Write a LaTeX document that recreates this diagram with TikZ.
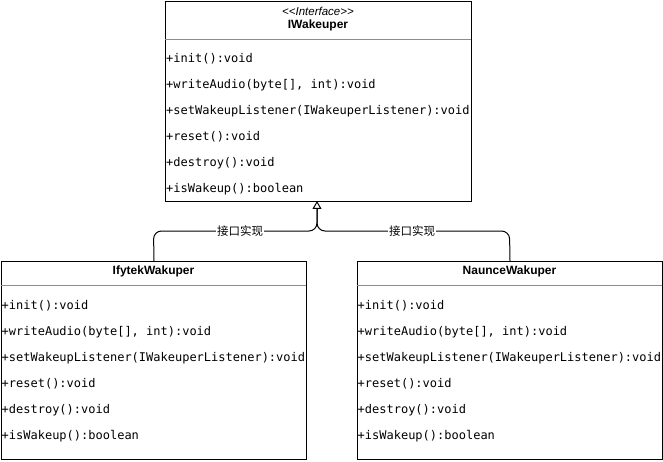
\documentclass[tikz,border=0pt]{standalone}
\usepackage{fontspec}
\setmainfont{Liberation Sans}
\setmonofont{DejaVu Sans Mono}
\newfontfamily\cjk{Noto Sans CJK SC}
\usetikzlibrary{arrows.meta}
\begin{document}
\begin{tikzpicture}[x=1pt,y=-1pt,
  box/.style={draw=black, line width=1pt, anchor=north west, inner sep=0pt},
  div/.style={draw=black!45, line width=0.8pt},
  member/.style={anchor=base west, inner sep=0pt, font=\ttfamily\fontsize{12}{14}\selectfont},
  hdr/.style={inner sep=0pt, font=\bfseries\fontsize{12}{14}\selectfont},
  stereo/.style={inner sep=0pt, font=\itshape\fontsize{11.5}{14}\selectfont},
  conn/.style={draw=black, line width=1pt, rounded corners=8pt},
  lbl/.style={fill=white, inner sep=1pt, font=\cjk\fontsize{11.5}{14}\selectfont}
]
\useasboundingbox (0,0) rectangle (663,462);

% interface box
\node[box, minimum width=306pt, minimum height=200pt] (iw) at (165,1) {};
\draw[div] (165,39) -- (471,39);
\node[stereo] (iwst) at (318,11) {<\kern0pt<Interface>\kern0pt>};
\node[hdr] (iwname) at (318,25) {IWakeuper};
\foreach \t [count=\i] in {{+init():void},{+writeAudio(byte[], int):void},{+setWakeupListener(IWakeuperListener):void},{+reset():void},{+destroy():void},{+isWakeup():boolean}}
  \node[member] (iwm\i) at (166,36.5+26*\i) {\t};

% Ifytek box
\node[box, minimum width=305pt, minimum height=198pt] (ify) at (1,261) {};
\draw[div] (1,285) -- (306,285);
\node[hdr] (ifyname) at (153.5,271) {IfytekWakuper};
\foreach \t [count=\i] in {{+init():void},{+writeAudio(byte[], int):void},{+setWakeupListener(IWakeuperListener):void},{+reset():void},{+destroy():void},{+isWakeup():boolean}}
  \node[member] (ifym\i) at (1.5,283+26*\i) {\t};

% Naunce box
\node[box, minimum width=305pt, minimum height=198pt] (nau) at (357,261) {};
\draw[div] (357,285) -- (662,285);
\node[hdr] (nauname) at (509.5,271) {NaunceWakuper};
\foreach \t [count=\i] in {{+init():void},{+writeAudio(byte[], int):void},{+setWakeupListener(IWakeuperListener):void},{+reset():void},{+destroy():void},{+isWakeup():boolean}}
  \node[member] (naum\i) at (357.5,283+26*\i) {\t};

% connectors
\coordinate (tip) at (317,201);
\coordinate (base) at (317,209);
\draw[conn, -{Triangle[open, length=8pt, width=9pt]}] (ify.north) -- (153.5,231) -- (317,231) -- (tip);
\draw[conn] (nau.north) -- (509.5,231) -- (317,231) -- (base);
\node[lbl] (l1) at (240,231) {接口实现};
\node[lbl] (l2) at (412,231) {接口实现};
\end{tikzpicture}
\end{document}
